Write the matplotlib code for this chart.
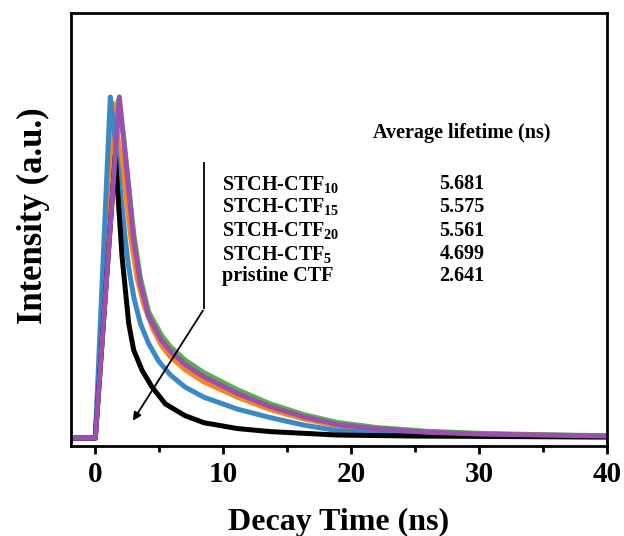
import matplotlib
matplotlib.use("Agg")
import matplotlib.pyplot as plt

# ---- data ----
t_black = [-1.9, 0, 1.56, 1.83, 2.09, 2.35, 2.61, 3.0, 3.65, 4.43, 5.48, 7.0, 8.5, 11.1, 13.7, 18.9, 25, 30, 35, 40]
v_black = [0, 0, 0.83, 0.678, 0.532, 0.434, 0.336, 0.258, 0.199, 0.15, 0.1, 0.066, 0.045, 0.028, 0.019, 0.009, 0.006, 0.005, 0.004, 0.003]

t_blue = [-1.9, 0, 1.17, 1.56, 1.83, 2.09, 2.35, 2.61, 3.0, 3.52, 4.17, 4.96, 5.87, 7.0, 8.48, 11.1, 13.7, 16.3, 18.9, 25, 30, 35, 40]
v_blue = [0, 0, 1.0, 0.874, 0.776, 0.678, 0.58, 0.50, 0.414, 0.336, 0.277, 0.225, 0.185, 0.15, 0.12, 0.085, 0.06, 0.038, 0.022, 0.01, 0.007, 0.005, 0.004]

t_orange = [-1.9, 0, 1.43, 1.8, 2.35, 2.8, 3.26, 3.8, 4.5, 5.2, 5.87, 7.04, 8.48, 11.1, 13.7, 16.3, 18.9, 22, 26, 30, 35, 40]
v_orange = [0, 0, 0.98, 0.87, 0.727, 0.58, 0.47, 0.39, 0.32, 0.27, 0.238, 0.2, 0.165, 0.12, 0.083, 0.056, 0.036, 0.024, 0.015, 0.011, 0.008, 0.005]

t_green = [-1.9, 0, 1.8, 2.22, 2.61, 3.0, 3.52, 4.17, 5.2, 5.87, 7.04, 8.48, 11.1, 13.7, 16.3, 18.9, 22, 26, 30, 35, 40]
v_green = [0, 0, 0.99, 0.88, 0.74, 0.6, 0.47, 0.37, 0.3, 0.268, 0.228, 0.192, 0.142, 0.1, 0.069, 0.046, 0.031, 0.02, 0.014, 0.01, 0.007]

t_purple = [-1.9, 0, 1.88, 2.22, 2.61, 3.0, 3.52, 4.17, 5.2, 5.87, 7.04, 8.48, 11.1, 13.7, 16.3, 18.9, 22, 26, 30, 35, 40]
v_purple = [0, 0, 1.0, 0.874, 0.727, 0.58, 0.454, 0.356, 0.285, 0.255, 0.215, 0.18, 0.131, 0.092, 0.0625, 0.04, 0.027, 0.017, 0.012, 0.009, 0.006]

samples = ["STCH-CTF$_{10}$", "STCH-CTF$_{15}$", "STCH-CTF$_{20}$", "STCH-CTF$_{5}$", "pristine CTF"]
lifetimes = ["5.681", "5.575", "5.561", "4.699", "2.641"]

x_ticks = [0, 10, 20, 30, 40]
x_minor = [5, 15, 25, 35]

plt.rcParams['font.family'] = ['Liberation Serif', 'DejaVu Serif']
plt.rcParams['mathtext.fontset'] = 'custom'
plt.rcParams['mathtext.rm'] = 'Liberation Serif:bold'
plt.rcParams['mathtext.it'] = 'Liberation Serif:bold'
plt.rcParams['mathtext.bf'] = 'Liberation Serif:bold'

fig = plt.figure(figsize=(6.24, 5.36), dpi=100)
ax = fig.add_axes([0.1138, 0.168, 0.8590, 0.8077])

lw = 3.6
ax.plot(t_green, v_green, color='#57b14a', lw=lw, solid_joinstyle='round')
ax.plot(t_orange, v_orange, color='#f7861f', lw=lw, solid_joinstyle='round')
ax.plot(t_blue, v_blue, color='#3b88c6', lw=lw, solid_joinstyle='round')
ax.plot(t_black, v_black, color='black', lw=lw, solid_joinstyle='round')
ax.plot(t_purple, v_purple, color='#9b4fae', lw=lw, solid_joinstyle='round')

ax.set_xlim(-1.9, 40)
ax.set_ylim(-0.023, 1.246)
ax.set_yticks([])
ax.set_xticks(x_ticks)
ax.set_xticks(x_minor, minor=True)
ax.tick_params(axis='x', which='major', direction='out', length=6, width=2, labelsize=21, pad=5)
ax.tick_params(axis='x', which='minor', direction='out', length=4, width=2)
for lab in ax.get_xticklabels():
    lab.set_fontweight('bold')
for s in ax.spines.values():
    s.set_linewidth(2)

ax.set_xlabel("Decay Time (ns)", fontsize=23, fontweight='bold', labelpad=14)
ax.set_ylabel("Intensity (a.u.)", fontsize=25, fontweight='bold')
ax.yaxis.set_label_coords(-0.04, 0.533)

# arrow annotation
ax.plot([8.53, 8.53], [0.806, 0.381], color='black', lw=1.3)
ax.annotate("", xy=(2.82, 0.044), xytext=(8.53, 0.381),
            arrowprops=dict(arrowstyle='-|>', color='black', lw=1.3, mutation_scale=12))

fs = 14.5
ax.text(0.729, 0.723, "Average lifetime (ns)", transform=ax.transAxes, fontsize=fs,
        fontweight='bold', ha='center', va='center')
row_y = [0.605, 0.552, 0.497, 0.443, 0.393]
for name, val, yy in zip(samples, lifetimes, row_y):
    ax.text(0.282, yy, name, transform=ax.transAxes, fontsize=fs, fontweight='bold',
            ha='left', va='center')
    ax.text(0.729, yy, val, transform=ax.transAxes, fontsize=fs, fontweight='bold',
            ha='center', va='center')

fig.savefig("out.png", dpi=100)
